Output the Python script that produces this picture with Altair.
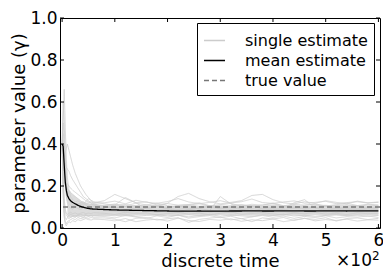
import altair as alt
import pandas as pd

# time grid shared by all estimate series
T = [0, 2, 4, 6, 8, 10, 13, 16, 20, 25, 30, 35, 40, 45, 50, 55, 60,
     80, 100, 120, 140, 160, 180, 200, 220, 240, 260, 280, 300, 320,
     340, 360, 380, 400, 420, 440, 460, 480, 500, 520, 540, 560, 580, 600]

MEAN = [0.40, 0.39, 0.30, 0.22, 0.18, 0.155, 0.14, 0.13, 0.122, 0.115, 0.108, 0.103, 0.099, 0.096, 0.093, 0.091, 0.090,
        0.088, 0.086, 0.085, 0.084, 0.083, 0.082, 0.081, 0.080, 0.080, 0.081, 0.080, 0.080, 0.081,
        0.081, 0.082, 0.081, 0.081, 0.082, 0.082, 0.081, 0.081, 0.082, 0.082, 0.081, 0.082, 0.082, 0.082]

SINGLES = [
    [0.40, 0.52, 0.66, 0.48, 0.33, 0.24, 0.18, 0.15, 0.135, 0.125, 0.13, 0.12, 0.125, 0.118, 0.12, 0.125, 0.118,
     0.120, 0.128, 0.115, 0.132, 0.122, 0.118, 0.126, 0.140, 0.124, 0.116, 0.122, 0.130, 0.119, 0.125,
     0.138, 0.121, 0.117, 0.124, 0.129, 0.118, 0.122, 0.127, 0.116, 0.121, 0.125, 0.119, 0.122],
    [0.40, 0.36, 0.34, 0.36, 0.38, 0.40, 0.37, 0.34, 0.30, 0.26, 0.23, 0.20, 0.18, 0.16, 0.145, 0.132, 0.125,
     0.115, 0.108, 0.112, 0.104, 0.110, 0.118, 0.106, 0.100, 0.109, 0.115, 0.105, 0.098, 0.107, 0.112,
     0.103, 0.110, 0.116, 0.104, 0.099, 0.108, 0.113, 0.102, 0.107, 0.111, 0.104, 0.109, 0.106],
    [0.40, 0.33, 0.30, 0.31, 0.29, 0.28, 0.27, 0.25, 0.23, 0.21, 0.19, 0.17, 0.15, 0.14, 0.13, 0.12, 0.115,
     0.100, 0.094, 0.102, 0.090, 0.096, 0.104, 0.092, 0.098, 0.088, 0.095, 0.101, 0.091, 0.097, 0.089,
     0.094, 0.100, 0.093, 0.087, 0.096, 0.092, 0.099, 0.090, 0.095, 0.093, 0.088, 0.096, 0.092],
    [0.40, 0.30, 0.26, 0.24, 0.22, 0.21, 0.20, 0.19, 0.18, 0.17, 0.16, 0.15, 0.14, 0.13, 0.125, 0.118, 0.11,
     0.090, 0.084, 0.078, 0.086, 0.081, 0.075, 0.083, 0.088, 0.079, 0.085, 0.077, 0.082, 0.087, 0.080,
     0.076, 0.084, 0.079, 0.083, 0.078, 0.086, 0.081, 0.077, 0.084, 0.080, 0.082, 0.078, 0.083],
    [0.40, 0.20, 0.08, 0.05, 0.04, 0.05, 0.045, 0.05, 0.055, 0.05, 0.06, 0.055, 0.05, 0.06, 0.055, 0.058, 0.052,
     0.055, 0.048, 0.060, 0.052, 0.045, 0.058, 0.050, 0.062, 0.047, 0.054, 0.059, 0.049, 0.056, 0.044,
     0.053, 0.060, 0.051, 0.057, 0.046, 0.055, 0.050, 0.058, 0.048, 0.054, 0.052, 0.057, 0.050],
    [0.40, 0.15, 0.05, 0.02, 0.01, 0.02, 0.03, 0.025, 0.035, 0.03, 0.04, 0.035, 0.04, 0.045, 0.04, 0.038, 0.042,
     0.040, 0.034, 0.045, 0.030, 0.038, 0.042, 0.033, 0.047, 0.036, 0.031, 0.041, 0.037, 0.044, 0.032,
     0.039, 0.035, 0.043, 0.030, 0.038, 0.046, 0.034, 0.040, 0.036, 0.042, 0.033, 0.039, 0.037],
    [0.40, 0.25, 0.14, 0.09, 0.07, 0.065, 0.07, 0.075, 0.068, 0.072, 0.066, 0.07, 0.074, 0.068, 0.071, 0.069, 0.073,
     0.070, 0.064, 0.075, 0.068, 0.072, 0.062, 0.069, 0.074, 0.066, 0.071, 0.063, 0.070, 0.076, 0.065,
     0.069, 0.073, 0.067, 0.062, 0.071, 0.068, 0.074, 0.066, 0.070, 0.064, 0.072, 0.068, 0.070],
    [0.40, 0.45, 0.35, 0.22, 0.15, 0.12, 0.10, 0.095, 0.09, 0.10, 0.092, 0.088, 0.095, 0.09, 0.093, 0.087, 0.09,
     0.095, 0.110, 0.145, 0.120, 0.090, 0.085, 0.092, 0.080, 0.088, 0.094, 0.083, 0.150, 0.115, 0.089,
     0.082, 0.091, 0.086, 0.093, 0.120, 0.135, 0.095, 0.084, 0.090, 0.087, 0.092, 0.085, 0.089],
    [0.40, 0.50, 0.42, 0.30, 0.20, 0.15, 0.13, 0.12, 0.11, 0.105, 0.11, 0.12, 0.115, 0.125, 0.14, 0.13, 0.12,
     0.130, 0.160, 0.140, 0.120, 0.125, 0.110, 0.118, 0.150, 0.165, 0.140, 0.125, 0.115, 0.122, 0.130,
     0.155, 0.160, 0.135, 0.120, 0.115, 0.125, 0.118, 0.130, 0.122, 0.115, 0.128, 0.120, 0.124],
    [0.40, 0.38, 0.28, 0.20, 0.16, 0.13, 0.115, 0.11, 0.105, 0.10, 0.108, 0.102, 0.098, 0.104, 0.10, 0.097, 0.103,
     0.100, 0.095, 0.104, 0.098, 0.092, 0.101, 0.096, 0.106, 0.093, 0.099, 0.103, 0.094, 0.100, 0.097,
     0.105, 0.091, 0.098, 0.102, 0.095, 0.100, 0.096, 0.104, 0.093, 0.099, 0.101, 0.095, 0.098],
    [0.40, 0.22, 0.12, 0.08, 0.06, 0.055, 0.06, 0.065, 0.06, 0.058, 0.062, 0.065, 0.06, 0.063, 0.058, 0.061, 0.06,
     0.062, 0.058, 0.066, 0.055, 0.060, 0.064, 0.057, 0.061, 0.053, 0.059, 0.065, 0.056, 0.062, 0.058,
     0.054, 0.063, 0.059, 0.066, 0.057, 0.061, 0.055, 0.060, 0.064, 0.058, 0.062, 0.056, 0.060],
    [0.40, 0.28, 0.22, 0.20, 0.19, 0.185, 0.18, 0.17, 0.16, 0.15, 0.14, 0.13, 0.12, 0.11, 0.10, 0.095, 0.09,
     0.085, 0.080, 0.088, 0.076, 0.082, 0.079, 0.086, 0.074, 0.081, 0.077, 0.084, 0.078, 0.073, 0.080,
     0.085, 0.076, 0.082, 0.079, 0.074, 0.083, 0.077, 0.081, 0.075, 0.080, 0.078, 0.082, 0.079],
    [0.40, 0.18, 0.06, 0.03, 0.02, 0.03, 0.035, 0.04, 0.045, 0.04, 0.05, 0.045, 0.048, 0.05, 0.046, 0.05, 0.047,
     0.048, 0.042, 0.030, 0.046, 0.050, 0.038, 0.044, 0.049, 0.027, 0.041, 0.047, 0.052, 0.039, 0.045,
     0.030, 0.048, 0.043, 0.050, 0.036, 0.046, 0.041, 0.049, 0.033, 0.045, 0.048, 0.040, 0.046],
    [0.40, 0.60, 0.50, 0.35, 0.25, 0.19, 0.15, 0.13, 0.12, 0.115, 0.118, 0.112, 0.11, 0.115, 0.108, 0.112, 0.11,
     0.108, 0.114, 0.105, 0.118, 0.110, 0.103, 0.116, 0.109, 0.112, 0.120, 0.106, 0.111, 0.117, 0.104,
     0.113, 0.108, 0.119, 0.106, 0.112, 0.109, 0.115, 0.105, 0.111, 0.118, 0.107, 0.113, 0.110],
]

# dense core of the single-estimate cloud
BAND_T = [10, 13, 16, 20, 25, 30, 35, 40, 45, 50, 55, 60,
          80, 100, 120, 140, 160, 180, 200, 220, 240, 260, 280, 300, 320,
          340, 360, 380, 400, 420, 440, 460, 480, 500, 520, 540, 560, 580, 600]
BAND_LO = [0.05, 0.05, 0.05, 0.052, 0.052, 0.054, 0.055, 0.055, 0.056, 0.056, 0.057, 0.057,
           0.058, 0.060, 0.056, 0.059, 0.062, 0.057, 0.060, 0.058, 0.061, 0.056, 0.059, 0.062, 0.057,
           0.060, 0.058, 0.061, 0.057, 0.060, 0.059, 0.056, 0.061, 0.058, 0.060, 0.057, 0.059, 0.061, 0.058]
BAND_HI = [0.20, 0.18, 0.17, 0.16, 0.15, 0.14, 0.13, 0.125, 0.12, 0.118, 0.115, 0.113,
           0.108, 0.112, 0.105, 0.110, 0.107, 0.111, 0.104, 0.109, 0.113, 0.106, 0.110, 0.108, 0.105,
           0.111, 0.109, 0.106, 0.112, 0.107, 0.110, 0.104, 0.109, 0.111, 0.106, 0.108, 0.110, 0.105, 0.108]

TRUE_VALUE = 0.1
SERIES = ["single estimate", "mean estimate", "true value"]
X_TICKS = [0, 100, 200, 300, 400, 500, 600]
Y_TICKS = [0.0, 0.2, 0.4, 0.6, 0.8, 1.0]

W, H = 320, 210
FONT = "DejaVu Sans"

singles_df = pd.DataFrame(
    [{"run": i, "time": t, "value": v, "series": SERIES[0]}
     for i, vals in enumerate(SINGLES) for t, v in zip(T, vals)]
)
mean_df = pd.DataFrame({"time": T, "value": MEAN, "series": SERIES[1]})
true_df = pd.DataFrame({"value": [TRUE_VALUE], "series": [SERIES[2]]})
band_df = pd.DataFrame({"time": BAND_T, "lo": BAND_LO, "hi": BAND_HI})
xt_df = pd.DataFrame({"time": X_TICKS})
yt_df = pd.DataFrame({"value": Y_TICKS})

xscale = alt.Scale(domain=[-4, 603], nice=False, zero=False)
yscale = alt.Scale(domain=[0, 1], nice=False)

axis_style = dict(labelFont=FONT, labelFontSize=17, labelColor="black",
                  titleFont=FONT, titleFontSize=18, titleFontWeight="normal", titleColor="black",
                  ticks=False, domain=False, grid=False, labelFlush=False, labelOverlap=False)

xaxis = alt.Axis(values=X_TICKS, labelExpr="datum.value / 100", labelPadding=4,
                 title="discrete time", titleX=W / 2, titleY=38, titleBaseline="alphabetic",
                 titleAlign="center", **axis_style)
yaxis = alt.Axis(values=Y_TICKS, format=".1f", labelPadding=3,
                 title="parameter value (γ)", titleX=-36, titleY=H / 2, titleAngle=270,
                 titleBaseline="alphabetic", titleAlign="center", **axis_style)

legend = alt.Legend(title=None, orient="none", legendX=137, legendY=5,
                    strokeColor="black", fillColor="white", padding=6,
                    cornerRadius=0, symbolType="stroke", symbolSize=441,
                    symbolStrokeWidth=1.5, labelFontSize=16, labelOffset=19,
                    rowPadding=0, labelFont=FONT, labelColor="black")
color = alt.Color("series:N", scale=alt.Scale(domain=SERIES, range=["#cccccc", "#000000", "#777777"]),
                  legend=legend)
dash = alt.StrokeDash("series:N", scale=alt.Scale(domain=SERIES, range=[[1, 0], [1, 0], [5, 3]]),
                      legend=legend)

band = alt.Chart(band_df).mark_area(color="#dcdcdc").encode(
    x=alt.X("time:Q", scale=xscale, axis=xaxis),
    y=alt.Y("lo:Q", scale=yscale, axis=yaxis),
    y2="hi:Q",
)

singles = alt.Chart(singles_df).mark_line(strokeWidth=0.8).encode(
    x=alt.X("time:Q", scale=xscale, axis=xaxis),
    y=alt.Y("value:Q", scale=yscale, axis=yaxis),
    detail="run:N",
    color=color,
    strokeDash=dash,
)

truth = alt.Chart(true_df).mark_rule(strokeWidth=1.5).encode(
    y=alt.Y("value:Q", scale=yscale, axis=yaxis),
    color=color,
    strokeDash=dash,
)

mean = alt.Chart(mean_df).mark_line(strokeWidth=1.3).encode(
    x=alt.X("time:Q", scale=xscale, axis=xaxis),
    y=alt.Y("value:Q", scale=yscale, axis=yaxis),
    color=color,
    strokeDash=dash,
)

tick_style = dict(color="black", strokeWidth=1)
xt_bottom = alt.Chart(xt_df).mark_rule(**tick_style).encode(
    x=alt.X("time:Q", scale=xscale, axis=xaxis), y=alt.value(H), y2=alt.value(H - 4))
xt_top = alt.Chart(xt_df).mark_rule(**tick_style).encode(
    x=alt.X("time:Q", scale=xscale, axis=xaxis), y=alt.value(0), y2=alt.value(4))
yt_left = alt.Chart(yt_df).mark_rule(**tick_style).encode(
    y=alt.Y("value:Q", scale=yscale, axis=yaxis), x=alt.value(0), x2=alt.value(4))
yt_right = alt.Chart(yt_df).mark_rule(**tick_style).encode(
    y=alt.Y("value:Q", scale=yscale, axis=yaxis), x=alt.value(W), x2=alt.value(W - 4))

offset_base = alt.Chart(pd.DataFrame({"txt": ["×10"]})).mark_text(
    align="right", baseline="alphabetic", fontSize=17, font=FONT, color="black"
).encode(text="txt:N", x=alt.value(W - 8), y=alt.value(H + 38))
offset_exp = alt.Chart(pd.DataFrame({"txt": ["2"]})).mark_text(
    align="left", baseline="alphabetic", fontSize=12, font=FONT, color="black"
).encode(text="txt:N", x=alt.value(W - 8), y=alt.value(H + 32))

chart = alt.layer(
    band, singles, truth, mean, xt_bottom, xt_top, yt_left, yt_right, offset_base, offset_exp
).properties(
    width=W, height=H,
    background="white",
    autosize=alt.AutoSizeParams(type="none"),
    padding={"left": 52, "top": 10, "right": 3, "bottom": 41},
).configure_view(
    stroke="black", strokeWidth=1
)

chart.save("out.html", embed_options={"renderer": "svg", "actions": False})
